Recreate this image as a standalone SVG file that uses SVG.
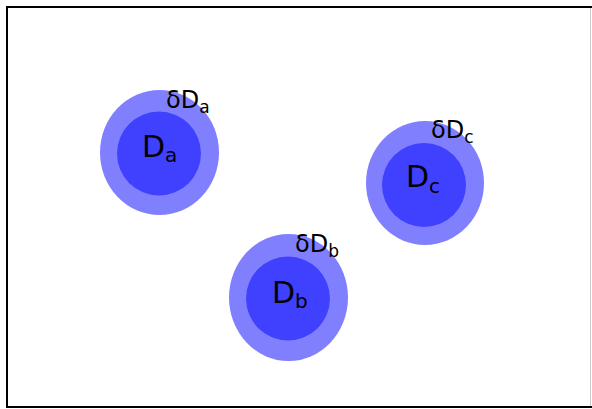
<svg xmlns="http://www.w3.org/2000/svg" width="592" height="409" viewBox="0 0 592 409">
<style>
.outer{fill:#8080ff;}
.inner{fill:#4040ff;}
.lbl{font-family:"DejaVu Sans","Liberation Sans",sans-serif;fill:#000;}
.big{font-size:30px;}
.small{font-size:24px;}
</style>
<rect x="0" y="0" width="592" height="409" fill="#fff"/>
<rect x="7" y="7" width="600" height="400" fill="none" stroke="#000" stroke-width="2"/>
<line x1="590.5" y1="8" x2="590.5" y2="406" stroke="#ccc" stroke-width="1"/>
<g id="node-a">
<ellipse class="outer" cx="159.5" cy="152.5" rx="59.5" ry="62.5"/>
<circle class="inner" cx="159" cy="153.5" r="42"/>
<text class="lbl big" x="142" y="157">D<tspan font-size="20" dy="5">a</tspan></text>
<text class="lbl small" x="166" y="108">δD<tspan font-size="17" dy="5">a</tspan></text>
</g>
<g id="node-c">
<ellipse class="outer" cx="425" cy="183" rx="59" ry="62"/>
<circle class="inner" cx="424" cy="185" r="42"/>
<text class="lbl big" x="406" y="187">D<tspan font-size="20" dy="5.5">c</tspan></text>
<text class="lbl small" x="431" y="138">δD<tspan font-size="17" dy="5">c</tspan></text>
</g>
<g id="node-b">
<ellipse class="outer" cx="288.5" cy="297.5" rx="59.5" ry="63.5"/>
<circle class="inner" cx="288" cy="298.5" r="42"/>
<text class="lbl big" x="272" y="303">D<tspan font-size="20" dy="5">b</tspan></text>
<text class="lbl small" x="295" y="252">δD<tspan font-size="17" dy="5">b</tspan></text>
</g>
<g id="connectors"/>
</svg>
